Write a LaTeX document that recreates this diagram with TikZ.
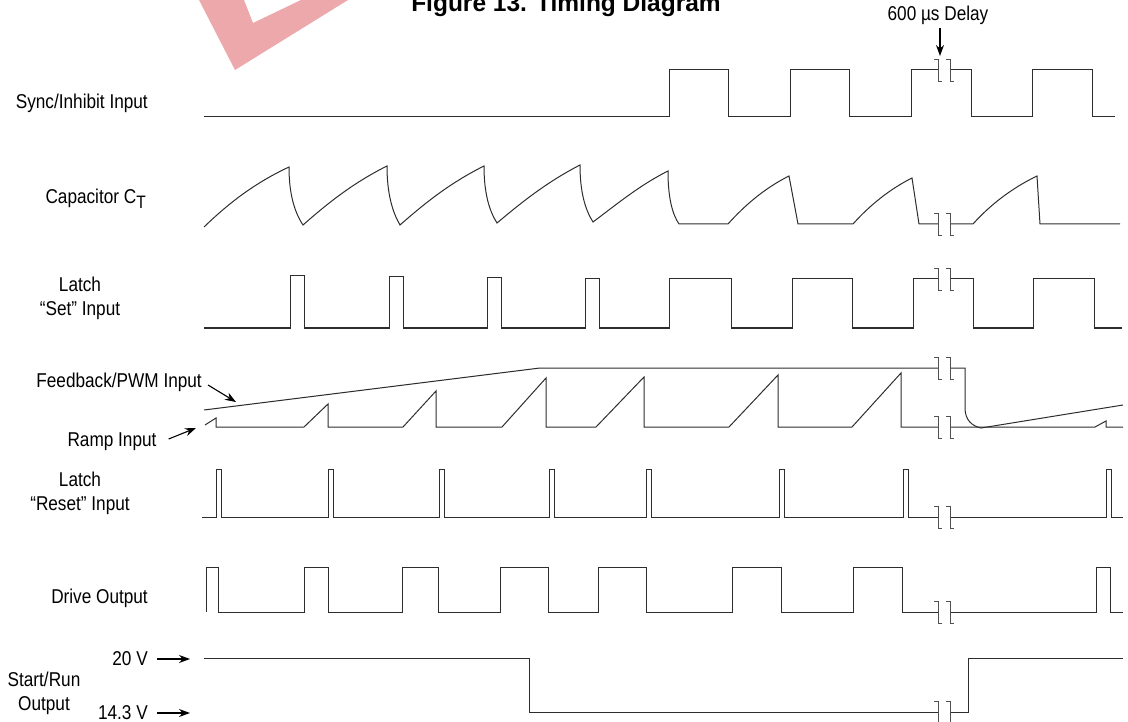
\documentclass[tikz,border=0pt]{standalone}
\usepackage{fontspec}
\setmainfont{Liberation Sans}
\newfontfamily\narrowfont{Liberation Sans}[FakeStretch=0.86]
\usepackage{xcolor}
\usepackage{tikz}
\usetikzlibrary{positioning,arrows.meta,calc}
\definecolor{tdline}{RGB}{45,45,45}
\definecolor{tdmark}{RGB}{80,80,80}
\definecolor{tdpink}{RGB}{236,168,170}

% break mark: two brackets, the trace stops at the first and restarts at the second
\newcommand{\gapmark}[2]{%
  \draw[brk] (#1-4,#2-11) -- (#1,#2-11) -- (#1,#2+11) -- (#1+4,#2+11);
  \draw[brk] (#1+8,#2-11) -- (#1+12,#2-11) -- (#1+12,#2+11) -- (#1+16,#2+11);
}

\begin{document}
\begin{tikzpicture}[
  x=1pt, y=-1pt,
  sig/.style={draw=tdline, line width=1pt, line join=miter},
  brk/.style={draw=tdmark, line width=0.9pt},
  lbl/.style={font=\narrowfont\fontsize{20}{24}\selectfont, inner sep=0pt, align=center},
  ttl/.style={font=\bfseries\fontsize{24.5}{28}\selectfont, inner sep=0pt},
  pnt/.style={-{Stealth[length=11pt, width=8pt]}, draw=black, line width=1.1pt},
]
\useasboundingbox (0,0) rectangle (1128,722);

% watermark and title, both cut by the top edge
\fill[tdpink, even odd rule] (199,0) -- (235,70) -- (348,0) -- cycle
  (244,0) -- (253,23) -- (301,0) -- cycle;
\node[ttl, anchor=base] (title) at (566,12) {Figure 13. Timing Diagram};

% row labels
\node[lbl, anchor=east] (sync) at (148,103) {Sync/Inhibit Input};
\node[lbl, anchor=east] (cap) at (146,199) {Capacitor C\raisebox{-0.45ex}{\fontsize{18}{18}\selectfont T}};
\node[lbl] (set) at (80,298) {Latch\\“Set” Input};
\node[lbl, anchor=east] (fbl) at (202,382) {Feedback/PWM Input};
\node[lbl] (ramp) at (112,442) {Ramp Input};
\node[lbl] (reset) at (80,493) {Latch\\“Reset” Input};
\node[lbl, anchor=east] (drv) at (148,598) {Drive Output};
\node[lbl] (srun) at (44,693) {Start/Run\\Output};
\node[lbl, anchor=east] (v20) at (148,659) {20 V};
\node[lbl, anchor=east] (v14) at (148,713) {14.3 V};
\node[lbl] (dly) at (938,15) {600 µs Delay};

% arrow tips
\coordinate (fbtip) at (236,402);
\coordinate (ramptip) at (196,428);
\coordinate (v20tip) at (190,659);
\coordinate (v14tip) at (190,713);
\coordinate (dlytip) at (940,56);

\draw[pnt] ([xshift=6pt,yshift=-3pt]fbl.east) -- (fbtip);
\draw[pnt] ([xshift=12pt,yshift=3pt]ramp.east) -- (ramptip);
\draw[pnt] ([xshift=9pt]v20.east) -- (v20tip);
\draw[pnt] ([xshift=9pt]v14.east) -- (v14tip);
\draw[pnt] ([xshift=2pt,yshift=-3pt]dly.south) -- (dlytip);

% Sync/Inhibit
\draw[sig] (204,117) -- (669,117) -- (669,70) -- (728,70) -- (728,117)
  -- (790,117) -- (790,70) -- (849,70) -- (849,117) -- (911,117) -- (911,70)
  -- (938,70) (950,70) -- (971,70) -- (971,117) -- (1032,117) -- (1032,70)
  -- (1092,70) -- (1092,117) -- (1115,117);
\gapmark{938}{70}

% Capacitor CT
\draw[sig] (204,227) .. controls (230,202) and (255,183) .. (289,167)
  .. controls (289,195) and (295,213) .. (303,225)
  .. controls (328,203) and (353,183) .. (387,166)
  .. controls (387,195) and (393,213) .. (400,225)
  .. controls (425,203) and (450,183) .. (484,166)
  .. controls (484,195) and (490,212) .. (497,223)
  .. controls (522,202) and (547,182) .. (580,165)
  .. controls (580,194) and (586,211) .. (593,222)
  .. controls (617,204) and (640,185) .. (668,171)
  .. controls (668,200) and (673,215) .. (679,224)
  -- (728,224) .. controls (745,205) and (765,188) .. (789,176) -- (798,224)
  -- (853,224) .. controls (870,205) and (890,189) .. (912,178) -- (919,224)
  -- (938,224) (950,224) -- (973,224)
  .. controls (990,205) and (1012,188) .. (1037,176) -- (1040,224) -- (1120,224);
\gapmark{938}{224}

% Latch Set
\draw[sig] (204,328) -- (290,328) -- (290,276) -- (304,276) -- (304,328)
  -- (389,328) -- (389,277) -- (403,277) -- (403,328)
  -- (487,328) -- (487,278) -- (501,278) -- (501,328)
  -- (585,328) -- (585,279) -- (599,279) -- (599,328)
  -- (669,328) -- (669,279) -- (731,279) -- (731,328)
  -- (792,328) -- (792,279) -- (852,279) -- (852,328)
  -- (913,328) -- (913,279) -- (938,279) (950,279) -- (973,279) -- (973,328)
  -- (1033,328) -- (1033,279) -- (1094,279) -- (1094,328) -- (1122,328);
\gapmark{938}{279}

% Feedback/PWM
\draw[sig] (204,410) -- (540,368) -- (938,368) (950,368) -- (965,368) -- (965,408)
  .. controls (965,420) and (972,426) .. (981,428) -- (1123,405);
\gapmark{938}{368}

% Ramp
\draw[sig] (205,425) -- (216,418) -- (216,427) -- (304,427) -- (328,404) -- (328,427)
  -- (403,427) -- (436,391) -- (436,427) -- (502,427) -- (546,378) -- (546,427)
  -- (596,427) -- (644,377) -- (644,427) -- (729,427) -- (778,375) -- (778,427)
  -- (852,427) -- (901,373) -- (901,427) -- (938,427) (950,427)
  -- (1095,427) -- (1106,421) -- (1106,427) -- (1123,427);
\gapmark{938}{427}

% Latch Reset
\draw[sig] (202,517) -- (216,517)
  \foreach \px in {216,328,439,549,646,779,903} {
    -- (\px,517) -- (\px,469) -- (\px+5,469) -- (\px+5,517)
  }
  -- (938,517) (950,517) -- (1106,517) -- (1106,469) -- (1111,469) -- (1111,517)
  -- (1123,517);
\gapmark{938}{517}

% Drive Output
\draw[sig] (206,612) -- (206,567) -- (218,567) -- (218,612)
  -- (304,612) -- (304,567) -- (328,567) -- (328,612)
  -- (402,612) -- (402,567) -- (438,567) -- (438,612)
  -- (500,612) -- (500,567) -- (548,567) -- (548,612)
  -- (598,612) -- (598,567) -- (646,567) -- (646,612)
  -- (732,612) -- (732,567) -- (781,567) -- (781,612)
  -- (853,612) -- (853,567) -- (902,567) -- (902,612)
  -- (938,612) (950,612) -- (1096,612) -- (1096,567) -- (1110,567) -- (1110,612)
  -- (1123,612);
\gapmark{938}{612}

% Start/Run
\draw[sig] (204,658) -- (529,658) -- (529,712) -- (938,712) (950,712)
  -- (968,712) -- (968,658) -- (1123,658);
\gapmark{938}{712}
\end{tikzpicture}
\end{document}
